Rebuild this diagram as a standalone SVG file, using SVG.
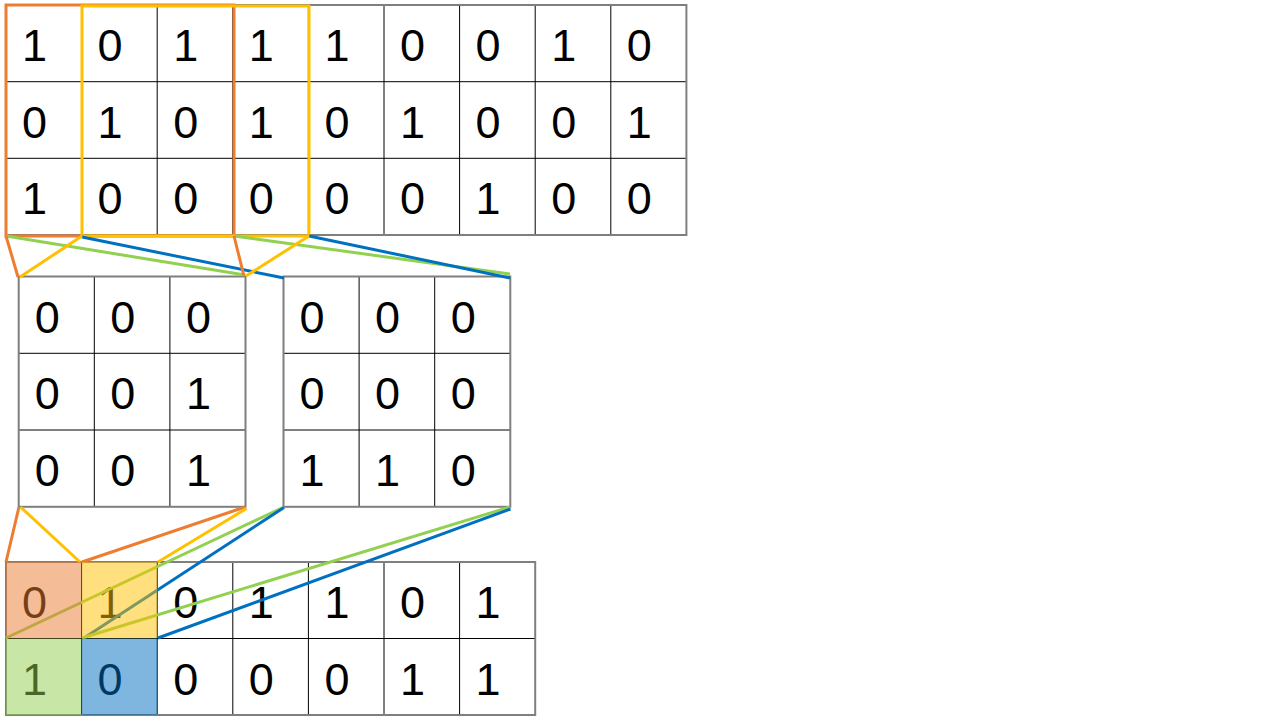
<svg xmlns="http://www.w3.org/2000/svg" width="1280" height="720" viewBox="0 0 1280 720">
<style>
.bg{fill:#ffffff}
.in{stroke:#000000;stroke-width:1;fill:none}
.out{stroke:#7f7f7f;stroke-width:2;fill:none}
.t{font-family:"Liberation Sans",Arial,sans-serif;font-size:45px;fill:#000000;text-anchor:middle}
.c{fill:none;stroke-width:3;stroke-linecap:butt}
.o{stroke:#ED7D31}
.y{stroke:#FFC000}
.g{stroke:#92D050}
.b{stroke:#0070C0}
.hl{opacity:0.5}
</style>
<rect width="1280" height="720" class="bg"/>

<g id="input-grid">
<path class="in" d="M81.6 5V235M157.2 5V235M232.8 5V235M308.4 5V235M384 5V235M459.6 5V235M535.2 5V235M610.8 5V235M6 81.7H686.4M6 158.3H686.4"/>
<rect class="out" x="6" y="5" width="680.4" height="230"/>
<g class="t">
<text x="34.5" y="61">1</text><text x="110.1" y="61">0</text><text x="185.7" y="61">1</text><text x="261.3" y="61">1</text><text x="336.9" y="61">1</text><text x="412.5" y="61">0</text><text x="488.1" y="61">0</text><text x="563.7" y="61">1</text><text x="639.3" y="61">0</text>
<text x="34.5" y="137.7">0</text><text x="110.1" y="137.7">1</text><text x="185.7" y="137.7">0</text><text x="261.3" y="137.7">1</text><text x="336.9" y="137.7">0</text><text x="412.5" y="137.7">1</text><text x="488.1" y="137.7">0</text><text x="563.7" y="137.7">0</text><text x="639.3" y="137.7">1</text>
<text x="34.5" y="214.3">1</text><text x="110.1" y="214.3">0</text><text x="185.7" y="214.3">0</text><text x="261.3" y="214.3">0</text><text x="336.9" y="214.3">0</text><text x="412.5" y="214.3">0</text><text x="488.1" y="214.3">1</text><text x="563.7" y="214.3">0</text><text x="639.3" y="214.3">0</text>
</g>
</g>

<g id="kernel-left">
<path class="in" d="M94.3 276.5V506.8M169.9 276.5V506.8M18.7 353.3H245.5M18.7 430H245.5"/>
<rect class="out" x="18.7" y="276.5" width="226.8" height="230.3"/>
<g class="t">
<text x="47.2" y="332.5">0</text><text x="122.8" y="332.5">0</text><text x="198.4" y="332.5">0</text>
<text x="47.2" y="409.3">0</text><text x="122.8" y="409.3">0</text><text x="198.4" y="409.3">1</text>
<text x="47.2" y="486">0</text><text x="122.8" y="486">0</text><text x="198.4" y="486">1</text>
</g>
</g>

<g id="kernel-right">
<path class="in" d="M359.1 276.5V506.8M434.7 276.5V506.8M283.5 353.3H510.3M283.5 430H510.3"/>
<rect class="out" x="283.5" y="276.5" width="226.8" height="230.3"/>
<g class="t">
<text x="312" y="332.5">0</text><text x="387.6" y="332.5">0</text><text x="463.2" y="332.5">0</text>
<text x="312" y="409.3">0</text><text x="387.6" y="409.3">0</text><text x="463.2" y="409.3">0</text>
<text x="312" y="486">1</text><text x="387.6" y="486">1</text><text x="463.2" y="486">0</text>
</g>
</g>

<g id="output-grid">
<path class="in" d="M81.6 562V715M157.2 562V715M232.8 562V715M308.4 562V715M384 562V715M459.6 562V715M6 638.5H535.2"/>
<rect class="out" x="6" y="562" width="529.2" height="153"/>
<g class="t">
<text x="34.5" y="618">0</text><text x="110.1" y="618">1</text><text x="185.7" y="618">0</text><text x="261.3" y="618">1</text><text x="336.9" y="618">1</text><text x="412.5" y="618">0</text><text x="488.1" y="618">1</text>
<text x="34.5" y="694.5">1</text><text x="110.1" y="694.5">0</text><text x="185.7" y="694.5">0</text><text x="261.3" y="694.5">0</text><text x="336.9" y="694.5">0</text><text x="412.5" y="694.5">1</text><text x="488.1" y="694.5">1</text>
</g>
</g>

<g id="windows">
<rect class="c o" x="6" y="5" width="228" height="231"/>
<rect class="c y" x="82" y="6" width="227" height="230"/>
</g>

<g id="connectors">
<line class="c g" x1="6" y1="236" x2="245" y2="275"/>
<line class="c g" x1="234" y1="236" x2="510" y2="274"/>
<line class="c b" x1="82" y1="237" x2="284" y2="278"/>
<line class="c b" x1="309" y1="236" x2="510" y2="278"/>
<line class="c o" x1="6" y1="236" x2="18" y2="277"/>
<line class="c o" x1="234" y1="236" x2="244" y2="276"/>
<line class="c y" x1="82" y1="236" x2="20" y2="277"/>
<line class="c y" x1="309" y1="236" x2="246" y2="276"/>

<line class="c o" x1="19" y1="507" x2="6" y2="562"/>
<line class="c o" x1="245" y1="507" x2="82" y2="562"/>
<line class="c y" x1="20.5" y1="507" x2="80" y2="562"/>
<line class="c y" x1="246.5" y1="508.5" x2="158" y2="562"/>
<line class="c g" x1="284" y1="507" x2="6" y2="638"/>
<line class="c b" x1="284" y1="507.5" x2="84" y2="638"/>
<line class="c g" x1="510" y1="507" x2="82" y2="638"/>
<line class="c b" x1="510.5" y1="509" x2="158" y2="638"/>
</g>

<g id="highlights" class="hl">
<rect x="6" y="562" width="75.6" height="76.5" fill="#ED7D31"/>
<rect x="81.6" y="562" width="75.6" height="76.5" fill="#FFC000"/>
<rect x="6" y="638.5" width="75.6" height="76.5" fill="#92D050"/>
<rect x="81.6" y="638.5" width="75.6" height="76.5" fill="#0070C0"/>
</g>
</svg>
